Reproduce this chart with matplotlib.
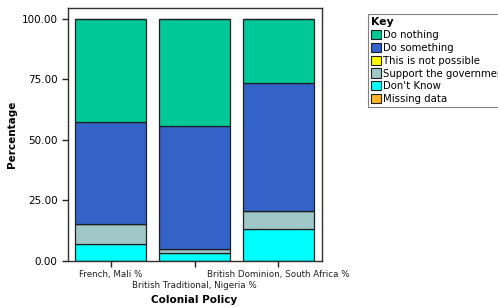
import matplotlib
matplotlib.use("Agg")
import matplotlib.pyplot as plt
import numpy as np
from matplotlib.patches import Patch

# ===== data (percent) =====
policies = ["French, Mali %", "British Traditional, Nigeria %", "British Dominion, South Africa %"]
dont_know = [7.0, 3.2, 13.1]
support_gov = [8.1, 1.8, 7.6]
not_possible = [0.0, 0.0, 0.0]
do_something = [42.2, 50.6, 52.7]
do_nothing = [42.7, 44.4, 26.6]
missing = [0.0, 0.0, 0.0]

key_labels = ["Do nothing", "Do something", "This is not possible",
              "Support the government", "Don't Know", "Missing data"]
key_colors = ["#00C896", "#3464C8", "#FFFF00", "#A0C8C8", "#00FFFF", "#FFB428"]

fig = plt.figure(figsize=(4.98, 3.07), dpi=100)
ax = fig.add_axes([68 / 498, 46 / 307, 254 / 498, 253 / 307])

x = np.arange(len(policies))
stack = [(dont_know, "#00FFFF"), (support_gov, "#A0C8C8"), (not_possible, "#FFFF00"),
         (do_something, "#3464C8"), (do_nothing, "#00C896"), (missing, "#FFB428")]
bottom = np.zeros(len(policies))
for vals, col in stack:
    vals = np.array(vals)
    ax.bar(x, vals, bottom=bottom, width=0.845, color=col,
           edgecolor="#202020", linewidth=0.9)
    bottom += vals

ax.set_xlim(-0.51, 2.52)
ax.set_ylim(0, 104.5)
ax.set_yticks([0, 25, 50, 75, 100])
ax.set_yticklabels(["%.2f" % v for v in [0, 25, 50, 75, 100]], fontsize=7.5)
ax.set_xticks(x)
ax.set_xticklabels([])
ax.tick_params(axis="both", direction="out", length=4, width=1, color="#202020")
for i, lab in enumerate(policies):
    off = -13 if i % 2 == 0 else -21
    ax.annotate(lab, xy=(x[i], 0), xycoords="data", xytext=(0, off),
                textcoords="offset points", ha="center", va="bottom", fontsize=6.3,
                annotation_clip=False, color="#202020")
for s in ax.spines.values():
    s.set_color("#303030")
    s.set_linewidth(1)

ax.set_ylabel("Percentage", fontsize=7.5, fontweight="bold", labelpad=3)
fig.text(194 / 498, 1 - 300 / 307, "Colonial Policy", ha="center", va="center",
         fontsize=7.5, fontweight="bold")

handles = [Patch(facecolor=c, edgecolor="#202020", linewidth=0.8) for c in key_colors]
leg = fig.legend(handles, key_labels, loc="upper left",
                 bbox_to_anchor=(363 / 498, 1 - 9 / 307), title="Key",
                 fontsize=7.3, title_fontproperties={"weight": "bold", "size": 7.8},
                 frameon=True, fancybox=False, edgecolor="#606060",
                 handlelength=0.95, handleheight=1.0, handletextpad=0.25,
                 labelspacing=0.28, borderpad=0.3, alignment="left")
leg.get_frame().set_linewidth(0.8)

fig.savefig("out.png", dpi=100)
